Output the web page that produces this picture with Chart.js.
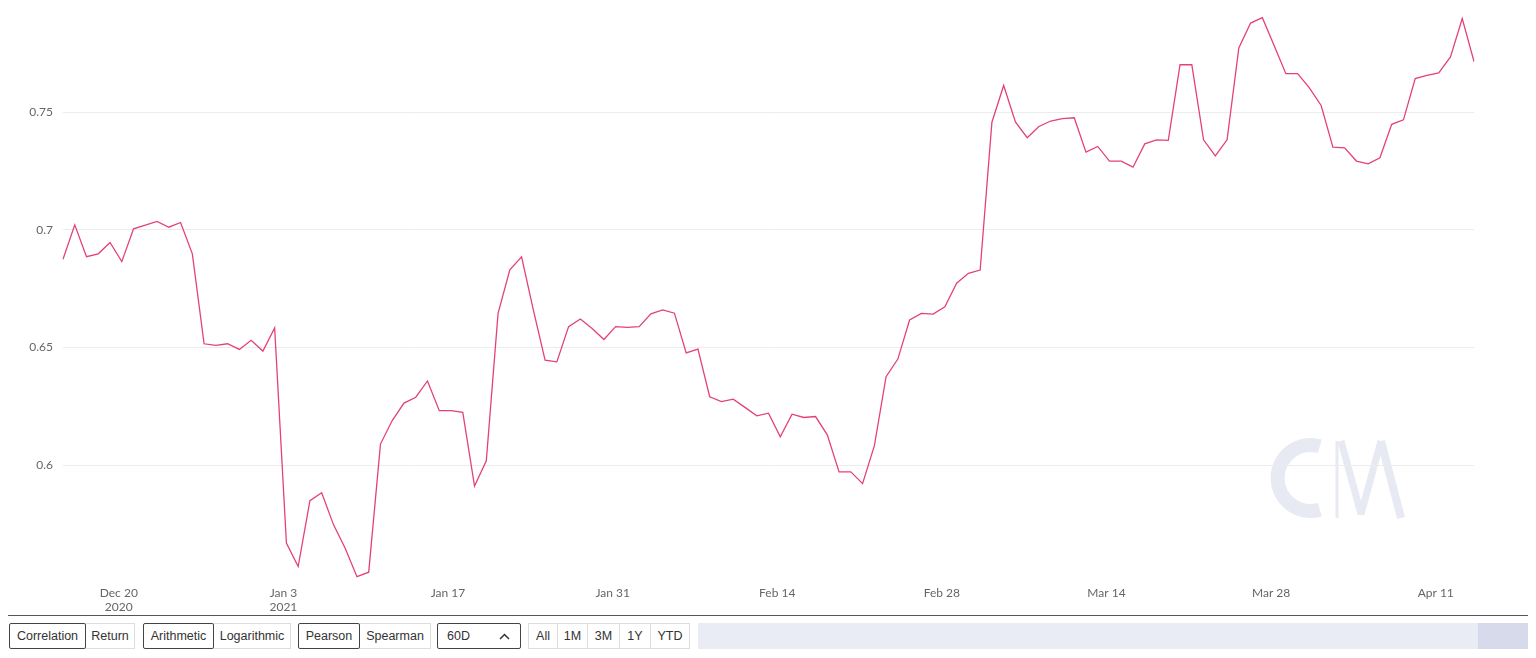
<!DOCTYPE html>
<html>
<head>
<meta charset="utf-8">
<script src="https://cdn.jsdelivr.net/npm/chart.js@4.4.1/dist/chart.umd.min.js"></script>
<style>
  body { margin: 0; background: #fff; width: 1536px; height: 658px; overflow: hidden; position: relative; }
  #wrap { position: absolute; left: 0; top: 0; width: 1536px; height: 614px; }
  #mark { position: absolute; left: 1260px; top: 430px; }
  .rule { position: absolute; left: 8px; top: 615px; width: 1520px; height: 0; border-top: 1.5px solid #555; }
  .btn {
    position: absolute; top: 623px; height: 26px; box-sizing: border-box;
    border: 1px solid #ddd; font: 12.5px "Liberation Sans", Arial, sans-serif; color: #333;
    display: flex; align-items: center; justify-content: center; background: #fff;
  }
  .btn.on { border-color: #444; border-radius: 2px; z-index: 1; }
  .nav { position: absolute; top: 623px; height: 26px; left: 698px; width: 830px; background: #e9ebf5; }
  .nav .handle { position: absolute; right: 0; top: 0; width: 50px; height: 26px; background: #d7daea; }
</style>
</head>
<body>
<svg id="mark" width="160" height="100">
  <g fill="none" stroke="#e7e9f3">
    <path d="M59.8 16.3 A33 33 0 1 0 59.8 79.7" stroke-width="14"/>
    <line x1="77" y1="88" x2="77" y2="11" stroke-width="3"/>
    <polyline points="81,11 101,84 121,11" stroke-width="7" stroke-linejoin="bevel"/>
    <line x1="121" y1="11" x2="141" y2="88" stroke-width="8"/>
  </g>
</svg>
<div id="wrap"><canvas id="chart" width="1536" height="614"></canvas></div>
<div class="rule"></div>
<div id="controls"></div>
<div class="nav"><div class="handle"></div></div>

<script>
// 60D rolling correlation, one value per day from 2020-12-15
const START_DATE = '2020-12-15';
const correlation = [
  0.6875, 0.7021, 0.6886, 0.6898, 0.6946, 0.6865, 0.7004, 0.7020, 0.7036, 0.7011,
  0.7031, 0.6898, 0.6516, 0.6509, 0.6516, 0.6492, 0.6531, 0.6485, 0.6583, 0.5670,
  0.5570, 0.5850, 0.5883, 0.5748, 0.5648, 0.5527, 0.5546, 0.6090, 0.6190, 0.6264,
  0.6289, 0.6358, 0.6232, 0.6232, 0.6225, 0.5912, 0.6019, 0.6645, 0.6830, 0.6885,
  0.6660, 0.6446, 0.6439, 0.6589, 0.6621, 0.6581, 0.6534, 0.6589, 0.6586, 0.6589,
  0.6643, 0.6660, 0.6646, 0.6477, 0.6493, 0.6291, 0.6270, 0.6281, 0.6246, 0.6210,
  0.6221, 0.6121, 0.6217, 0.6203, 0.6207, 0.6129, 0.5972, 0.5972, 0.5922, 0.6082,
  0.6376, 0.6451, 0.6617, 0.6645, 0.6642, 0.6673, 0.6773, 0.6815, 0.6829, 0.7457,
  0.7613, 0.7458, 0.7391, 0.7439, 0.7462, 0.7472, 0.7476, 0.7330, 0.7354, 0.7292,
  0.7292, 0.7266, 0.7365, 0.7382, 0.7380, 0.7701, 0.7701, 0.7382, 0.7314, 0.7382,
  0.7772, 0.7878, 0.7901, 0.7783, 0.7663, 0.7663, 0.7603, 0.7528, 0.7351, 0.7348,
  0.7292, 0.7280, 0.7306, 0.7448, 0.7467, 0.7642, 0.7656, 0.7666, 0.7734, 0.7897,
  0.7715,
];

const xTickDates = ['2020-12-20', '2021-01-03', '2021-01-17', '2021-01-31', '2021-02-14',
  '2021-02-28', '2021-03-14', '2021-03-28', '2021-04-11'];
const xTickText = [['Dec 20', '2020'], ['Jan 3', '2021'], 'Jan 17', 'Jan 31', 'Feb 14',
  'Feb 28', 'Mar 14', 'Mar 28', 'Apr 11'];
const yTicks = [0.6, 0.65, 0.7, 0.75];

const LINE_COLOR = '#e4407d';
const TICK_COLOR = '#666';

// one category per day
const days = [];
const t0 = Date.parse(START_DATE + 'T00:00:00Z');
for (let i = 0; i < correlation.length; i++) {
  days.push(new Date(t0 + i * 86400000).toISOString().slice(0, 10));
}

// control bar buttons: [text, left, width, selected]
const buttons = [
  ['Correlation', 9, 77, true], ['Return', 85, 50, false],
  ['Arithmetic', 143, 71, true], ['Logarithmic', 213, 78, false],
  ['Pearson', 298, 62, true], ['Spearman', 359, 72, false],
  ['All', 528, 30, false], ['1M', 557, 31, false], ['3M', 587, 33, false],
  ['1Y', 619, 32, false], ['YTD', 650, 40, false],
];

const $ = (id) => document.getElementById(id);

buttons.forEach(([text, left, width, on]) => {
  const b = document.createElement('div');
  b.className = 'btn' + (on ? ' on' : '');
  b.style.left = left + 'px';
  b.style.width = width + 'px';
  b.textContent = text;
  $('controls').appendChild(b);
});
// period dropdown
const dd = document.createElement('div');
dd.className = 'btn on';
dd.style.left = '437px';
dd.style.width = '84px';
dd.style.justifyContent = 'space-between';
dd.style.padding = '0 10px 0 9px';
dd.innerHTML = '<span>60D</span><svg width="11" height="7"><polyline points="1,6 5.5,1.5 10,6" fill="none" stroke="#333" stroke-width="1.5"/></svg>';
$('controls').appendChild(dd);

const tickFont = { family: 'Lato, sans-serif', size: 12 };

new Chart($('chart'), {
  type: 'line',
  data: {
    labels: days,
    datasets: [{
      data: correlation,
      borderColor: LINE_COLOR,
      borderWidth: 1.3,
      pointRadius: 0,
      tension: 0,
      fill: false,
    }],
  },
  options: {
    responsive: false,
    animation: false,
    devicePixelRatio: 1,
    layout: { padding: { left: 0, right: 62, top: 0, bottom: 0 } },
    plugins: { legend: { display: false }, tooltip: { enabled: false } },
    scales: {
      x: {
        type: 'category',
        offset: false,
        grid: { display: false, drawTicks: false },
        border: { display: false },
        ticks: {
          autoSkip: false,
          maxRotation: 0,
          padding: 3,
          labelOffset: -3,
          color: TICK_COLOR,
          font: tickFont,
          callback: (v, i) => {
            const k = xTickDates.indexOf(days[i]);
            return k >= 0 ? xTickText[k] : null;
          },
        },
        afterFit: (s) => { s.height = 31; s.paddingLeft = 0; s.paddingRight = 0; },
      },
      y: {
        min: 0.55,
        max: 0.7976,
        grid: { color: '#ececec', drawTicks: false },
        border: { display: false },
        ticks: { padding: 10, color: TICK_COLOR, font: tickFont, callback: (v) => String(v) },
        afterBuildTicks: (s) => { s.ticks = yTicks.map((v) => ({ value: v })); },
        afterFit: (s) => { s.width = 63; s.paddingTop = 0; s.paddingBottom = 0; },
      },
    },
  },
});
</script>
</body>
</html>
